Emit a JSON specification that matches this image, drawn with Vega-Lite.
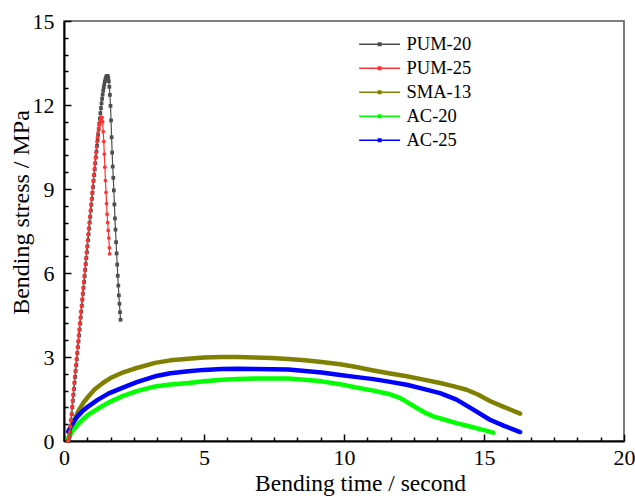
{
  "$schema": "https://vega.github.io/schema/vega-lite/v6.json",
  "width": 560,
  "height": 420,
  "autosize": {"type": "none"},
  "padding": {"left": 64, "top": 21, "right": 11, "bottom": 56},
  "background": "white",
  "config": {"view": {"stroke": "#555555", "strokeWidth": 1.5}, "font": "Liberation Serif"},
  "data": {"values": [
    {"series":"SMA-13","t":0.15,"s":0.0},{"series":"SMA-13","t":0.2,"s":0.2},{"series":"SMA-13","t":0.25,"s":0.38},{"series":"SMA-13","t":0.35,"s":0.7},{"series":"SMA-13","t":0.5,"s":1.05},{"series":"SMA-13","t":0.7,"s":1.38},{"series":"SMA-13","t":0.87,"s":1.59},{"series":"SMA-13","t":1.1,"s":1.85},{"series":"SMA-13","t":1.4,"s":2.08},{"series":"SMA-13","t":1.7,"s":2.27},{"series":"SMA-13","t":2.06,"s":2.43},{"series":"SMA-13","t":2.5,"s":2.58},{"series":"SMA-13","t":3.0,"s":2.72},{"series":"SMA-13","t":3.25,"s":2.79},{"series":"SMA-13","t":3.8,"s":2.88},{"series":"SMA-13","t":4.44,"s":2.94},{"series":"SMA-13","t":5.0,"s":2.98},{"series":"SMA-13","t":5.63,"s":3.0},{"series":"SMA-13","t":6.2,"s":3.0},{"series":"SMA-13","t":6.82,"s":2.98},{"series":"SMA-13","t":7.4,"s":2.96},{"series":"SMA-13","t":8.01,"s":2.93},{"series":"SMA-13","t":8.6,"s":2.88},{"series":"SMA-13","t":9.2,"s":2.82},{"series":"SMA-13","t":9.86,"s":2.74},{"series":"SMA-13","t":10.39,"s":2.65},{"series":"SMA-13","t":11.05,"s":2.52},{"series":"SMA-13","t":11.6,"s":2.42},{"series":"SMA-13","t":12.24,"s":2.31},{"series":"SMA-13","t":12.8,"s":2.2},{"series":"SMA-13","t":13.43,"s":2.07},{"series":"SMA-13","t":13.9,"s":1.96},{"series":"SMA-13","t":14.38,"s":1.83},{"series":"SMA-13","t":14.8,"s":1.65},{"series":"SMA-13","t":15.21,"s":1.43},{"series":"SMA-13","t":15.7,"s":1.22},{"series":"SMA-13","t":16.29,"s":0.98},
    {"series":"AC-20","t":0.15,"s":0.1},{"series":"AC-20","t":0.3,"s":0.35},{"series":"AC-20","t":0.5,"s":0.6},{"series":"AC-20","t":0.7,"s":0.8},{"series":"AC-20","t":0.87,"s":0.94},{"series":"AC-20","t":1.2,"s":1.15},{"series":"AC-20","t":1.6,"s":1.38},{"series":"AC-20","t":2.06,"s":1.59},{"series":"AC-20","t":2.6,"s":1.78},{"series":"AC-20","t":3.25,"s":1.95},{"series":"AC-20","t":3.8,"s":2.02},{"series":"AC-20","t":4.44,"s":2.07},{"series":"AC-20","t":5.0,"s":2.13},{"series":"AC-20","t":5.63,"s":2.19},{"series":"AC-20","t":6.2,"s":2.21},{"series":"AC-20","t":6.82,"s":2.23},{"series":"AC-20","t":7.4,"s":2.23},{"series":"AC-20","t":8.01,"s":2.23},{"series":"AC-20","t":8.6,"s":2.19},{"series":"AC-20","t":9.2,"s":2.13},{"series":"AC-20","t":9.86,"s":2.03},{"series":"AC-20","t":10.39,"s":1.92},{"series":"AC-20","t":11.05,"s":1.8},{"series":"AC-20","t":11.6,"s":1.68},{"series":"AC-20","t":12.0,"s":1.54},{"series":"AC-20","t":12.3,"s":1.36},{"series":"AC-20","t":12.6,"s":1.18},{"series":"AC-20","t":12.9,"s":1.01},{"series":"AC-20","t":13.19,"s":0.88},{"series":"AC-20","t":13.6,"s":0.76},{"series":"AC-20","t":14.02,"s":0.64},{"series":"AC-20","t":14.6,"s":0.49},{"series":"AC-20","t":15.0,"s":0.39},{"series":"AC-20","t":15.33,"s":0.3},
    {"series":"AC-25","t":0.15,"s":0.34},{"series":"AC-25","t":0.3,"s":0.62},{"series":"AC-25","t":0.5,"s":0.9},{"series":"AC-25","t":0.7,"s":1.1},{"series":"AC-25","t":0.87,"s":1.24},{"series":"AC-25","t":1.2,"s":1.47},{"series":"AC-25","t":1.6,"s":1.7},{"series":"AC-25","t":2.06,"s":1.89},{"series":"AC-25","t":2.6,"s":2.1},{"series":"AC-25","t":3.25,"s":2.31},{"series":"AC-25","t":3.8,"s":2.42},{"series":"AC-25","t":4.44,"s":2.49},{"series":"AC-25","t":5.0,"s":2.54},{"series":"AC-25","t":5.63,"s":2.57},{"series":"AC-25","t":6.2,"s":2.58},{"series":"AC-25","t":6.82,"s":2.57},{"series":"AC-25","t":7.4,"s":2.56},{"series":"AC-25","t":8.01,"s":2.55},{"series":"AC-25","t":8.6,"s":2.5},{"series":"AC-25","t":9.2,"s":2.45},{"series":"AC-25","t":9.86,"s":2.36},{"series":"AC-25","t":10.39,"s":2.29},{"series":"AC-25","t":11.05,"s":2.21},{"series":"AC-25","t":11.6,"s":2.12},{"series":"AC-25","t":12.24,"s":2.01},{"series":"AC-25","t":12.8,"s":1.87},{"series":"AC-25","t":13.43,"s":1.71},{"series":"AC-25","t":14.02,"s":1.48},{"series":"AC-25","t":14.62,"s":1.12},{"series":"AC-25","t":15.21,"s":0.76},{"series":"AC-25","t":15.7,"s":0.55},{"series":"AC-25","t":16.29,"s":0.32},
    {"series":"PUM-20","t":0.16,"s":0.0},{"series":"PUM-20","t":0.18,"s":0.06},{"series":"PUM-20","t":0.2,"s":0.16},{"series":"PUM-20","t":0.22,"s":0.32},{"series":"PUM-20","t":0.24,"s":0.52},{"series":"PUM-20","t":0.26,"s":0.74},{"series":"PUM-20","t":0.28,"s":0.96},{"series":"PUM-20","t":0.3,"s":1.21},{"series":"PUM-20","t":0.32,"s":1.44},{"series":"PUM-20","t":0.34,"s":1.65},{"series":"PUM-20","t":0.36,"s":1.86},{"series":"PUM-20","t":0.38,"s":2.08},{"series":"PUM-20","t":0.4,"s":2.29},{"series":"PUM-20","t":0.42,"s":2.5},{"series":"PUM-20","t":0.44,"s":2.71},{"series":"PUM-20","t":0.46,"s":2.92},{"series":"PUM-20","t":0.48,"s":3.14},{"series":"PUM-20","t":0.5,"s":3.35},{"series":"PUM-20","t":0.52,"s":3.56},{"series":"PUM-20","t":0.54,"s":3.77},{"series":"PUM-20","t":0.56,"s":3.98},{"series":"PUM-20","t":0.58,"s":4.2},{"series":"PUM-20","t":0.6,"s":4.41},{"series":"PUM-20","t":0.62,"s":4.62},{"series":"PUM-20","t":0.64,"s":4.83},{"series":"PUM-20","t":0.66,"s":5.05},{"series":"PUM-20","t":0.68,"s":5.26},{"series":"PUM-20","t":0.7,"s":5.47},{"series":"PUM-20","t":0.72,"s":5.68},{"series":"PUM-20","t":0.74,"s":5.89},{"series":"PUM-20","t":0.76,"s":6.11},{"series":"PUM-20","t":0.78,"s":6.32},{"series":"PUM-20","t":0.8,"s":6.53},{"series":"PUM-20","t":0.82,"s":6.74},{"series":"PUM-20","t":0.84,"s":6.95},{"series":"PUM-20","t":0.86,"s":7.17},{"series":"PUM-20","t":0.88,"s":7.38},{"series":"PUM-20","t":0.9,"s":7.59},{"series":"PUM-20","t":0.92,"s":7.8},{"series":"PUM-20","t":0.94,"s":8.01},{"series":"PUM-20","t":0.96,"s":8.23},{"series":"PUM-20","t":0.98,"s":8.44},{"series":"PUM-20","t":1.0,"s":8.65},{"series":"PUM-20","t":1.02,"s":8.86},{"series":"PUM-20","t":1.04,"s":9.07},{"series":"PUM-20","t":1.06,"s":9.29},{"series":"PUM-20","t":1.08,"s":9.5},{"series":"PUM-20","t":1.1,"s":9.71},{"series":"PUM-20","t":1.12,"s":9.92},{"series":"PUM-20","t":1.14,"s":10.13},{"series":"PUM-20","t":1.16,"s":10.33},{"series":"PUM-20","t":1.18,"s":10.54},{"series":"PUM-20","t":1.2,"s":10.74},{"series":"PUM-20","t":1.22,"s":10.94},{"series":"PUM-20","t":1.24,"s":11.14},{"series":"PUM-20","t":1.26,"s":11.33},{"series":"PUM-20","t":1.28,"s":11.52},{"series":"PUM-20","t":1.3,"s":11.71},{"series":"PUM-20","t":1.32,"s":11.89},{"series":"PUM-20","t":1.34,"s":12.06},{"series":"PUM-20","t":1.36,"s":12.22},{"series":"PUM-20","t":1.38,"s":12.37},{"series":"PUM-20","t":1.4,"s":12.51},{"series":"PUM-20","t":1.42,"s":12.63},{"series":"PUM-20","t":1.44,"s":12.74},{"series":"PUM-20","t":1.46,"s":12.84},{"series":"PUM-20","t":1.48,"s":12.92},{"series":"PUM-20","t":1.5,"s":12.98},{"series":"PUM-20","t":1.52,"s":13.02},{"series":"PUM-20","t":1.54,"s":13.04},{"series":"PUM-20","t":1.56,"s":13.03},{"series":"PUM-20","t":1.58,"s":12.97},{"series":"PUM-20","t":1.6,"s":12.85},{"series":"PUM-20","t":1.62,"s":12.65},{"series":"PUM-20","t":1.64,"s":12.36},{"series":"PUM-20","t":1.66,"s":11.97},{"series":"PUM-20","t":1.68,"s":11.45},{"series":"PUM-20","t":1.7,"s":10.85},{"series":"PUM-20","t":1.72,"s":10.3},{"series":"PUM-20","t":1.74,"s":9.8},{"series":"PUM-20","t":1.76,"s":9.4},{"series":"PUM-20","t":1.78,"s":8.95},{"series":"PUM-20","t":1.8,"s":8.45},{"series":"PUM-20","t":1.82,"s":7.95},{"series":"PUM-20","t":1.84,"s":7.55},{"series":"PUM-20","t":1.86,"s":7.1},{"series":"PUM-20","t":1.88,"s":6.7},{"series":"PUM-20","t":1.9,"s":6.3},{"series":"PUM-20","t":1.92,"s":5.9},{"series":"PUM-20","t":1.94,"s":5.55},{"series":"PUM-20","t":1.96,"s":5.2},{"series":"PUM-20","t":1.98,"s":4.9},{"series":"PUM-20","t":2.0,"s":4.6},{"series":"PUM-20","t":2.02,"s":4.33},
    {"series":"PUM-25","t":0.14,"s":0.0},{"series":"PUM-25","t":0.16,"s":0.06},{"series":"PUM-25","t":0.18,"s":0.16},{"series":"PUM-25","t":0.2,"s":0.32},{"series":"PUM-25","t":0.22,"s":0.52},{"series":"PUM-25","t":0.24,"s":0.74},{"series":"PUM-25","t":0.26,"s":0.96},{"series":"PUM-25","t":0.28,"s":1.21},{"series":"PUM-25","t":0.3,"s":1.44},{"series":"PUM-25","t":0.32,"s":1.65},{"series":"PUM-25","t":0.34,"s":1.86},{"series":"PUM-25","t":0.36,"s":2.08},{"series":"PUM-25","t":0.38,"s":2.29},{"series":"PUM-25","t":0.4,"s":2.5},{"series":"PUM-25","t":0.42,"s":2.71},{"series":"PUM-25","t":0.44,"s":2.92},{"series":"PUM-25","t":0.46,"s":3.14},{"series":"PUM-25","t":0.48,"s":3.35},{"series":"PUM-25","t":0.5,"s":3.56},{"series":"PUM-25","t":0.52,"s":3.77},{"series":"PUM-25","t":0.54,"s":3.98},{"series":"PUM-25","t":0.56,"s":4.2},{"series":"PUM-25","t":0.58,"s":4.41},{"series":"PUM-25","t":0.6,"s":4.62},{"series":"PUM-25","t":0.62,"s":4.83},{"series":"PUM-25","t":0.64,"s":5.05},{"series":"PUM-25","t":0.66,"s":5.26},{"series":"PUM-25","t":0.68,"s":5.47},{"series":"PUM-25","t":0.7,"s":5.68},{"series":"PUM-25","t":0.72,"s":5.89},{"series":"PUM-25","t":0.74,"s":6.11},{"series":"PUM-25","t":0.76,"s":6.32},{"series":"PUM-25","t":0.78,"s":6.53},{"series":"PUM-25","t":0.8,"s":6.74},{"series":"PUM-25","t":0.82,"s":6.95},{"series":"PUM-25","t":0.84,"s":7.17},{"series":"PUM-25","t":0.86,"s":7.38},{"series":"PUM-25","t":0.88,"s":7.59},{"series":"PUM-25","t":0.9,"s":7.8},{"series":"PUM-25","t":0.92,"s":8.01},{"series":"PUM-25","t":0.94,"s":8.23},{"series":"PUM-25","t":0.96,"s":8.44},{"series":"PUM-25","t":0.98,"s":8.65},{"series":"PUM-25","t":1.0,"s":8.86},{"series":"PUM-25","t":1.02,"s":9.07},{"series":"PUM-25","t":1.04,"s":9.29},{"series":"PUM-25","t":1.06,"s":9.5},{"series":"PUM-25","t":1.08,"s":9.71},{"series":"PUM-25","t":1.1,"s":9.92},{"series":"PUM-25","t":1.12,"s":10.12},{"series":"PUM-25","t":1.14,"s":10.31},{"series":"PUM-25","t":1.16,"s":10.5},{"series":"PUM-25","t":1.18,"s":10.68},{"series":"PUM-25","t":1.2,"s":10.85},{"series":"PUM-25","t":1.22,"s":11.01},{"series":"PUM-25","t":1.24,"s":11.15},{"series":"PUM-25","t":1.26,"s":11.28},{"series":"PUM-25","t":1.28,"s":11.39},{"series":"PUM-25","t":1.3,"s":11.47},{"series":"PUM-25","t":1.32,"s":11.53},{"series":"PUM-25","t":1.34,"s":11.56},{"series":"PUM-25","t":1.36,"s":11.55},{"series":"PUM-25","t":1.38,"s":11.4},{"series":"PUM-25","t":1.4,"s":11.05},{"series":"PUM-25","t":1.42,"s":10.7},{"series":"PUM-25","t":1.44,"s":10.25},{"series":"PUM-25","t":1.46,"s":9.78},{"series":"PUM-25","t":1.48,"s":9.3},{"series":"PUM-25","t":1.5,"s":8.88},{"series":"PUM-25","t":1.52,"s":8.48},{"series":"PUM-25","t":1.54,"s":8.1},{"series":"PUM-25","t":1.56,"s":7.8},{"series":"PUM-25","t":1.58,"s":7.52},{"series":"PUM-25","t":1.6,"s":7.25},{"series":"PUM-25","t":1.62,"s":6.9},{"series":"PUM-25","t":1.63,"s":6.68}
  ]},
  "layer": [
    {
      "transform": [{"filter": "datum.series == 'SMA-13' || datum.series == 'AC-20' || datum.series == 'AC-25'"}],
      "mark": {"type": "line", "strokeWidth": 4.5, "strokeCap": "round", "strokeJoin": "round"},
      "encoding": {
        "x": {"field": "t", "type": "quantitative", "scale": {"domain": [0, 20], "nice": false, "zero": false},
          "axis": {"values": [0, 5, 10, 15, 20], "title": "Bending time / second", "titleFont": "Liberation Serif", "titleFontSize": 23.5, "titleFontWeight": "normal", "titleColor": "black", "titleX": 296, "titleY": 49, "titleBaseline": "alphabetic", "titleAlign": "center",
            "labelFont": "Liberation Serif", "labelFontSize": 22, "labelColor": "black", "labelPadding": 13, "labelFlush": false, "labelOverlap": false,
            "tickSize": -7, "tickWidth": 1.5, "tickColor": "black", "domainColor": "black", "domainWidth": 2, "grid": false}},
        "y": {"field": "s", "type": "quantitative", "scale": {"domain": [0, 15], "nice": false, "zero": false},
          "axis": {"values": [0, 3, 6, 9, 12, 15], "title": "Bending stress / MPa", "titleFont": "Liberation Serif", "titleFontSize": 24, "titleFontWeight": "normal", "titleColor": "black", "titleX": -36, "titleY": 191, "titleBaseline": "alphabetic", "titleAlign": "center", "titleAngle": 270,
            "labelFont": "Liberation Serif", "labelFontSize": 22, "labelColor": "black", "labelPadding": 17, "labelFlush": false, "labelOverlap": false,
            "tickSize": -7, "tickWidth": 1.5, "tickColor": "black", "domainColor": "black", "domainWidth": 2, "grid": false}},
        "color": {"field": "series", "type": "nominal",
          "scale": {"domain": ["PUM-20", "PUM-25", "SMA-13", "AC-20", "AC-25"], "range": ["#4d4d4d", "#ff3333", "#808000", "#00ff00", "#0000ff"]},
          "legend": {"orient": "none", "legendX": 291, "legendY": 14, "title": null, "symbolType": "M-1,0H7M2.75,-0.25H3.25V0.25H2.75Z", "symbolSize": 105, "symbolStrokeWidth": 1.5, "labelFont": "Liberation Serif", "labelFontSize": 18.5, "labelColor": "black", "labelOffset": 33, "rowPadding": 5, "padding": 0,
            "encode": {"symbols": {"update": {"fill": {"scale": "color", "field": "value"}, "stroke": {"scale": "color", "field": "value"}, "opacity": {"value": 1}}}}}
        }
      }
    },
    {
      "transform": [{"filter": "datum.series == 'PUM-20' || datum.series == 'PUM-25'"}],
      "mark": {"type": "line", "strokeWidth": 1.2},
      "encoding": {
        "x": {"field": "t", "type": "quantitative", "scale": {"domain": [0, 20], "nice": false, "zero": false},
          "axis": {"orient": "bottom", "values": [0.8333, 1.6667, 2.5, 3.3333, 4.1667, 5.8333, 6.6667, 7.5, 8.3333, 9.1667, 10.8333, 11.6667, 12.5, 13.3333, 14.1667, 15.8333, 16.6667, 17.5, 18.3333, 19.1667], "labels": false, "title": null, "domain": false, "grid": false, "tickSize": -4, "tickWidth": 1.5, "tickColor": "black"}},
        "y": {"field": "s", "type": "quantitative", "scale": {"domain": [0, 15], "nice": false, "zero": false},
          "axis": {"orient": "left", "values": [0.6, 1.2, 1.8, 2.4, 3.6, 4.2, 4.8, 5.4, 6.6, 7.2, 7.8, 8.4, 9.6, 10.2, 10.8, 11.4, 12.6, 13.2, 13.8, 14.4], "labels": false, "title": null, "domain": false, "grid": false, "tickSize": -4, "tickWidth": 1.5, "tickColor": "black"}},
        "color": {"field": "series", "type": "nominal",
          "scale": {"domain": ["PUM-20", "PUM-25", "SMA-13", "AC-20", "AC-25"], "range": ["#4d4d4d", "#ff3333", "#808000", "#00ff00", "#0000ff"]},
          "legend": {"orient": "none", "legendX": 291, "legendY": 14, "title": null, "symbolType": "M-1,0H7M2.75,-0.25H3.25V0.25H2.75Z", "symbolSize": 105, "symbolStrokeWidth": 1.5, "labelFont": "Liberation Serif", "labelFontSize": 18.5, "labelColor": "black", "labelOffset": 33, "rowPadding": 5, "padding": 0,
            "encode": {"symbols": {"update": {"fill": {"scale": "color", "field": "value"}, "stroke": {"scale": "color", "field": "value"}, "opacity": {"value": 1}}}}}
        }
      }
    },
    {
      "transform": [{"filter": "datum.series == 'PUM-20' || datum.series == 'PUM-25'"}],
      "mark": {"type": "point", "filled": true, "size": 14, "opacity": 1},
      "encoding": {
        "x": {"field": "t", "type": "quantitative", "scale": {"domain": [0, 20], "nice": false, "zero": false}, "axis": null},
        "y": {"field": "s", "type": "quantitative", "scale": {"domain": [0, 15], "nice": false, "zero": false}, "axis": null},
        "shape": {"field": "series", "type": "nominal", "scale": {"domain": ["PUM-20", "PUM-25"], "range": ["square", "circle"]}, "legend": null},
        "color": {"field": "series", "type": "nominal",
          "scale": {"domain": ["PUM-20", "PUM-25", "SMA-13", "AC-20", "AC-25"], "range": ["#4d4d4d", "#ff3333", "#808000", "#00ff00", "#0000ff"]},
          "legend": {"orient": "none", "legendX": 291, "legendY": 14, "title": null, "symbolType": "M-1,0H7M2.75,-0.25H3.25V0.25H2.75Z", "symbolSize": 105, "symbolStrokeWidth": 1.5, "labelFont": "Liberation Serif", "labelFontSize": 18.5, "labelColor": "black", "labelOffset": 33, "rowPadding": 5, "padding": 0,
            "encode": {"symbols": {"update": {"fill": {"scale": "color", "field": "value"}, "stroke": {"scale": "color", "field": "value"}, "opacity": {"value": 1}}}}}
        }
      }
    }
  ],
  "resolve": {"axis": {"x": "independent", "y": "independent"}}
}
